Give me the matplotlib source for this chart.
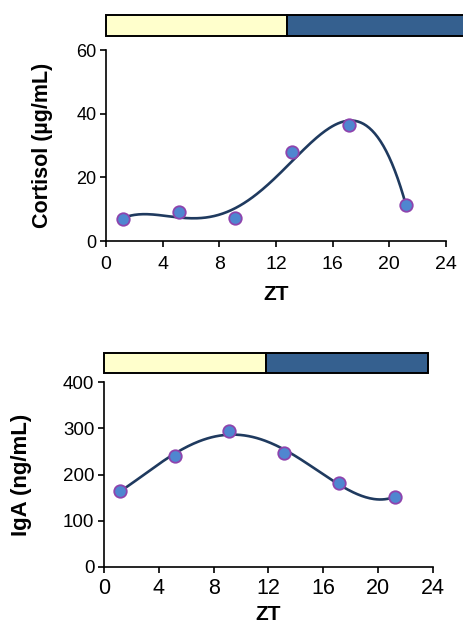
import numpy as np
import matplotlib.pyplot as plt
from matplotlib.patches import Rectangle

plt.rcParams['font.family'] = ['Liberation Sans', 'DejaVu Sans']

# sampling times (ZT) and measured values
zt = [1.2, 5.15, 9.1, 13.1, 17.15, 21.2]
cortisol = [6.9, 9.0, 7.1, 28.0, 36.3, 11.3]
iga = [165, 241, 294, 247, 182, 151]

# light / dark bars above each panel (start, end in ZT)
top_light = (0, 12.8)
top_dark = (12.8, 26)
bot_light = (0, 11.8)
bot_dark = (11.8, 23.6)

light_col = '#FFFFCC'
dark_col = '#35608F'
line_col = '#1F3A5F'
face_col = '#4F86D0'
edge_col = '#8E44AD'

fig = plt.figure(figsize=(4.63, 6.27), dpi=100)
ax1 = fig.add_axes([0.229, 0.6156, 0.734, 0.3046])
ax2 = fig.add_axes([0.2246, 0.0957, 0.7106, 0.295])


def panel(ax, y, deg, ylim, yticks, ylabel, lsize, xt, yt, xpad, zpad,
          light, dark, bar_y, label_x):
    # polynomial trend line as in the source figure
    coef = np.polyfit(zt, y, deg)
    xs = np.linspace(zt[0], zt[-1], 200)
    ax.plot(xs, np.polyval(coef, xs), color=line_col, lw=1.9, zorder=2)
    ax.plot(zt, y, 'o', ms=9, mfc=face_col, mec=edge_col, mew=1.3, zorder=3)
    ax.set_xlim(0, 24)
    ax.set_ylim(*ylim)
    ax.set_xticks(range(0, 25, 4))
    ax.set_yticks(yticks)
    for s in ['top', 'right']:
        ax.spines[s].set_visible(False)
    for s in ['left', 'bottom']:
        ax.spines[s].set_linewidth(1.2)
    ax.tick_params(direction='out', length=4, width=1.2)
    ax.tick_params(axis='x', labelsize=xt, pad=xpad)
    ax.tick_params(axis='y', labelsize=yt, pad=3)
    ax.set_xlabel('ZT', fontsize=15, fontweight='bold', labelpad=zpad)
    ax.set_ylabel(ylabel, fontsize=lsize, fontweight='bold')
    ax.yaxis.set_label_coords(label_x, 0.5)
    tr = ax.get_xaxis_transform()
    h = bar_y[1] - bar_y[0]
    for (a, b), c in [(light, light_col), (dark, dark_col)]:
        ax.add_patch(Rectangle((a, bar_y[0]), b - a, h, transform=tr,
                               facecolor=c, edgecolor='black', lw=1.4,
                               clip_on=False))


panel(ax1, cortisol, 4, (0, 60), [0, 20, 40, 60], 'Cortisol (µg/mL)', 15.5,
      14, 13, 6.5, 9, top_light, top_dark, (1.073, 1.183), -0.156)
panel(ax2, iga, 4, (0, 400), [0, 100, 200, 300, 400], 'IgA (ng/mL)', 16,
      15.5, 13.5, 4, 4, bot_light, bot_dark, (1.049, 1.157), -0.219)

fig.savefig('out.png', dpi=100)
